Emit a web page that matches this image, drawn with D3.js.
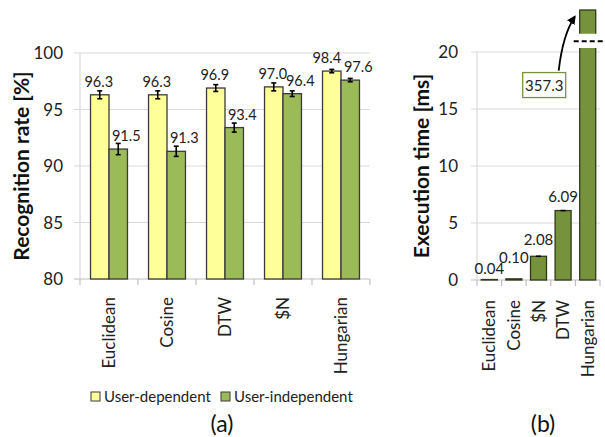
<!DOCTYPE html>
<html lang="en">
<head>
<meta charset="UTF-8">
<title>Recognition rate and execution time</title>
<script src="https://cdn.jsdelivr.net/npm/d3@7"></script>
<style>
  body { margin: 0; background: #fff; }
  svg { font-family: Lato, "Open Sans", sans-serif; }
</style>
</head>
<body>
<script>
// (a) recognition rate
const methodsA = ['Euclidean', 'Cosine', 'DTW', '$N', 'Hungarian']
const userDep = [96.3, 96.3, 96.9, 97.0, 98.4]
const userDepErr = [0.35, 0.35, 0.3, 0.35, 0.15]
const userIndep = [91.5, 91.3, 93.4, 96.4, 97.6]
const userIndepErr = [0.5, 0.45, 0.4, 0.25, 0.15]
const ticksA = [80, 85, 90, 95, 100]
const seriesNames = ['User-dependent', 'User-independent']

// (b) execution time
const methodsB = ['Euclidean', 'Cosine', '$N', 'DTW', 'Hungarian']
const execTime = [0.04, 0.10, 2.08, 6.09, 357.3]
const execErr = [0, 0, 0.06, 0.06, 0]
const ticksB = [0, 5, 10, 15, 20]

const yellow = '#ffff99', green = '#9bbb59', olive = '#76923c'
const gridCol = '#d9d9d9', axisCol = '#bfbfbf'

const svg = d3.select('body').append('svg')
  .attr('width', 605)
  .attr('height', 437)

// ---------- chart (a) ----------
const yA = d3.scaleLinear().domain([80, 100]).range([279, 53])
const xA = d3.scaleBand().domain(methodsA).range([80, 370])
const xS = d3.scaleBand().domain([0, 1]).range([0, xA.bandwidth()]).paddingOuter(0.57)

const gA = svg.append('g')

gA.selectAll('.grid')
  .data(ticksA)
  .enter()
  .append('line')
  .attr('x1', 74)
  .attr('x2', 370)
  .attr('y1', d => yA(d))
  .attr('y2', d => yA(d))
  .attr('stroke', d => d === 80 ? axisCol : gridCol)
  .attr('stroke-width', 1.2)

gA.append('line')
  .attr('x1', 80).attr('x2', 80)
  .attr('y1', yA(100)).attr('y2', yA(80))
  .attr('stroke', gridCol).attr('stroke-width', 1.2)

// category tick marks
gA.selectAll('.xtick')
  .data(methodsA.map(d => xA(d)).concat([370]))
  .enter()
  .append('line')
  .attr('x1', d => d).attr('x2', d => d)
  .attr('y1', yA(80)).attr('y2', yA(80) + 6)
  .attr('stroke', axisCol).attr('stroke-width', 1.2)

gA.selectAll('.ylab')
  .data(ticksA)
  .enter()
  .append('text')
  .attr('x', 63)
  .attr('y', d => yA(d) + 6)
  .attr('text-anchor', 'end')
  .attr('font-size', 17)
  .attr('fill', '#222')
  .text(d => d)

const rowsA = methodsA.map((m, i) => [
  { m, s: 0, v: userDep[i], e: userDepErr[i] },
  { m, s: 1, v: userIndep[i], e: userIndepErr[i] }
]).flat()

gA.selectAll('.bar')
  .data(rowsA)
  .enter()
  .append('rect')
  .attr('x', d => xA(d.m) + xS(d.s))
  .attr('y', d => yA(d.v))
  .attr('width', xS.bandwidth())
  .attr('height', d => yA(80) - yA(d.v))
  .attr('fill', d => d.s === 0 ? yellow : green)
  .attr('stroke', '#3a3a3a')
  .attr('stroke-width', 1.3)

// error bars
const errA = gA.selectAll('.err')
  .data(rowsA)
  .enter()
  .append('g')
  .attr('stroke', '#000')
  .attr('stroke-width', 1.6)
errA.append('line')
  .attr('x1', d => xA(d.m) + xS(d.s) + xS.bandwidth() / 2)
  .attr('x2', d => xA(d.m) + xS(d.s) + xS.bandwidth() / 2)
  .attr('y1', d => yA(d.v + d.e))
  .attr('y2', d => yA(d.v - d.e))
errA.selectAll('.cap')
  .data(d => [d.v + d.e, d.v - d.e].map(v => ({ d, v })))
  .enter()
  .append('line')
  .attr('x1', c => xA(c.d.m) + xS(c.d.s) + xS.bandwidth() / 2 - 2.5)
  .attr('x2', c => xA(c.d.m) + xS(c.d.s) + xS.bandwidth() / 2 + 2.5)
  .attr('y1', c => yA(c.v))
  .attr('y2', c => yA(c.v))

gA.selectAll('.val')
  .data(rowsA)
  .enter()
  .append('text')
  .attr('x', d => xA(d.m) + xS(d.s) + xS.bandwidth() / 2 + (d.s === 1 ? 8 : (d.m === 'Hungarian' ? -5 : -1)))
  .attr('y', d => yA(d.v) - 8)
  .attr('text-anchor', 'middle')
  .attr('font-size', 14.5)
  .attr('fill', '#222')
  .text(d => d.v.toFixed(1))

gA.selectAll('.cat')
  .data(methodsA)
  .enter()
  .append('text')
  .attr('transform', d => `translate(${xA(d) + xA.bandwidth() / 2 + 6},${yA(80) + 18}) rotate(-90)`)
  .attr('text-anchor', 'end')
  .attr('font-size', 17)
  .attr('fill', '#222')
  .text(d => d)

gA.append('text')
  .attr('transform', `translate(29,${(yA(80) + yA(100)) / 2}) rotate(-90)`)
  .attr('text-anchor', 'middle')
  .attr('font-size', 21)
  .attr('font-weight', 'bold')
  .attr('fill', '#111')
  .text('Recognition rate [%]')

// legend
const legend = gA.selectAll('.leg')
  .data(seriesNames)
  .enter()
  .append('g')
  .attr('transform', (d, i) => `translate(${i === 0 ? 91 : 221},392)`)
legend.append('rect')
  .attr('width', 9).attr('height', 9)
  .attr('fill', (d, i) => i === 0 ? yellow : green)
  .attr('stroke', '#3a3a3a')
legend.append('text')
  .attr('x', 13)
  .attr('y', 10)
  .attr('font-size', 15)
  .attr('fill', '#222')
  .text(d => d)

gA.append('text')
  .attr('x', 222).attr('y', 432)
  .attr('text-anchor', 'middle')
  .attr('font-size', 23)
  .attr('fill', '#111')
  .text('(a)')

// ---------- chart (b) ----------
const yB = d3.scaleLinear().domain([0, 20]).range([280, 52])
const xB = d3.scaleBand().domain(methodsB).range([477, 600]).paddingInner(0.35).paddingOuter(0.175)
const stepB = xB.step()
const topVal = yB.invert(10)

const gB = svg.append('g')

gB.selectAll('.grid')
  .data(ticksB)
  .enter()
  .append('line')
  .attr('x1', 471)
  .attr('x2', 600)
  .attr('y1', d => yB(d))
  .attr('y2', d => yB(d))
  .attr('stroke', d => d === 0 ? axisCol : gridCol)
  .attr('stroke-width', 1.2)

gB.append('line')
  .attr('x1', 477).attr('x2', 477)
  .attr('y1', yB(20)).attr('y2', yB(0))
  .attr('stroke', gridCol).attr('stroke-width', 1.2)

gB.selectAll('.xtick')
  .data(methodsB.map(d => xB(d) - stepB * 0.175).concat([600]))
  .enter()
  .append('line')
  .attr('x1', d => d).attr('x2', d => d)
  .attr('y1', yB(0)).attr('y2', yB(0) + 6)
  .attr('stroke', axisCol).attr('stroke-width', 1.2)

gB.selectAll('.ylab')
  .data(ticksB)
  .enter()
  .append('text')
  .attr('x', 458)
  .attr('y', d => yB(d) + 6)
  .attr('text-anchor', 'end')
  .attr('font-size', 17)
  .attr('fill', '#222')
  .text(d => d)

const rowsB = methodsB.map((m, i) => ({ m, v: execTime[i], e: execErr[i] }))

gB.selectAll('.bar')
  .data(rowsB)
  .enter()
  .append('rect')
  .attr('x', d => xB(d.m))
  .attr('y', d => yB(Math.min(d.v, topVal)))
  .attr('width', xB.bandwidth())
  .attr('height', d => yB(0) - yB(Math.min(d.v, topVal)))
  .attr('fill', olive)
  .attr('stroke', '#2e3a17')
  .attr('stroke-width', 1.3)

const errB = gB.selectAll('.err')
  .data(rowsB.filter(d => d.e > 0))
  .enter()
  .append('g')
  .attr('stroke', '#000')
  .attr('stroke-width', 1.6)
errB.append('line')
  .attr('x1', d => xB(d.m) + xB.bandwidth() / 2 - 2.5)
  .attr('x2', d => xB(d.m) + xB.bandwidth() / 2 + 2.5)
  .attr('y1', d => yB(d.v))
  .attr('y2', d => yB(d.v))

// break in the Hungarian bar
const hx = xB('Hungarian')
gB.append('rect')
  .attr('x', hx - 6)
  .attr('y', yB(21.6))
  .attr('width', 605 - hx + 6)
  .attr('height', yB(20.35) - yB(21.6))
  .attr('fill', '#fff')
gB.append('line')
  .attr('x1', hx - 6).attr('x2', 605)
  .attr('y1', yB(20.95)).attr('y2', yB(20.95))
  .attr('stroke', '#000')
  .attr('stroke-width', 2)
  .attr('stroke-dasharray', '5,3')

const lift = [6, 16, 11, 9]
gB.selectAll('.val')
  .data(rowsB.slice(0, 4))
  .enter()
  .append('text')
  .attr('x', d => xB(d.m) + xB.bandwidth() / 2)
  .attr('y', (d, i) => yB(d.v) - lift[i])
  .attr('text-anchor', 'middle')
  .attr('font-size', 15)
  .attr('fill', '#222')
  .text(d => d.v.toFixed(2))

// callout for the clipped value
const bx = hx - 57, by = yB(17.1) - 12.5
gB.append('rect')
  .attr('x', bx).attr('y', by)
  .attr('width', 43).attr('height', 25)
  .attr('fill', '#fff')
  .attr('stroke', olive)
  .attr('stroke-width', 1.3)
gB.append('text')
  .attr('x', bx + 21.5).attr('y', by + 18)
  .attr('text-anchor', 'middle')
  .attr('font-size', 15)
  .attr('fill', '#222')
  .text(execTime[4].toFixed(1))

svg.append('defs').append('marker')
  .attr('id', 'arr')
  .attr('viewBox', '0 0 10 10')
  .attr('refX', 8).attr('refY', 5)
  .attr('markerWidth', 5).attr('markerHeight', 5)
  .attr('orient', 'auto')
  .append('path')
  .attr('d', 'M0,0L10,5L0,10z')
  .attr('fill', '#000')

gB.append('path')
  .attr('d', `M${bx + 36},${by - 2} Q${bx + 40},${yB(21.5)} ${hx - 5},${yB(23.1)}`)
  .attr('fill', 'none')
  .attr('stroke', '#000')
  .attr('stroke-width', 1.8)
  .attr('marker-end', 'url(#arr)')

gB.selectAll('.cat')
  .data(methodsB)
  .enter()
  .append('text')
  .attr('transform', d => `translate(${xB(d) + xB.bandwidth() / 2 + 6},${yB(0) + 20}) rotate(-90)`)
  .attr('text-anchor', 'end')
  .attr('font-size', 17)
  .attr('fill', '#222')
  .text(d => d)

gB.append('text')
  .attr('transform', `translate(429,${(yB(0) + yB(20)) / 2}) rotate(-90)`)
  .attr('text-anchor', 'middle')
  .attr('font-size', 21)
  .attr('font-weight', 'bold')
  .attr('fill', '#111')
  .text('Execution time [ms]')

gB.append('text')
  .attr('x', 543).attr('y', 432)
  .attr('text-anchor', 'middle')
  .attr('font-size', 23)
  .attr('fill', '#111')
  .text('(b)')
</script>
</body>
</html>
